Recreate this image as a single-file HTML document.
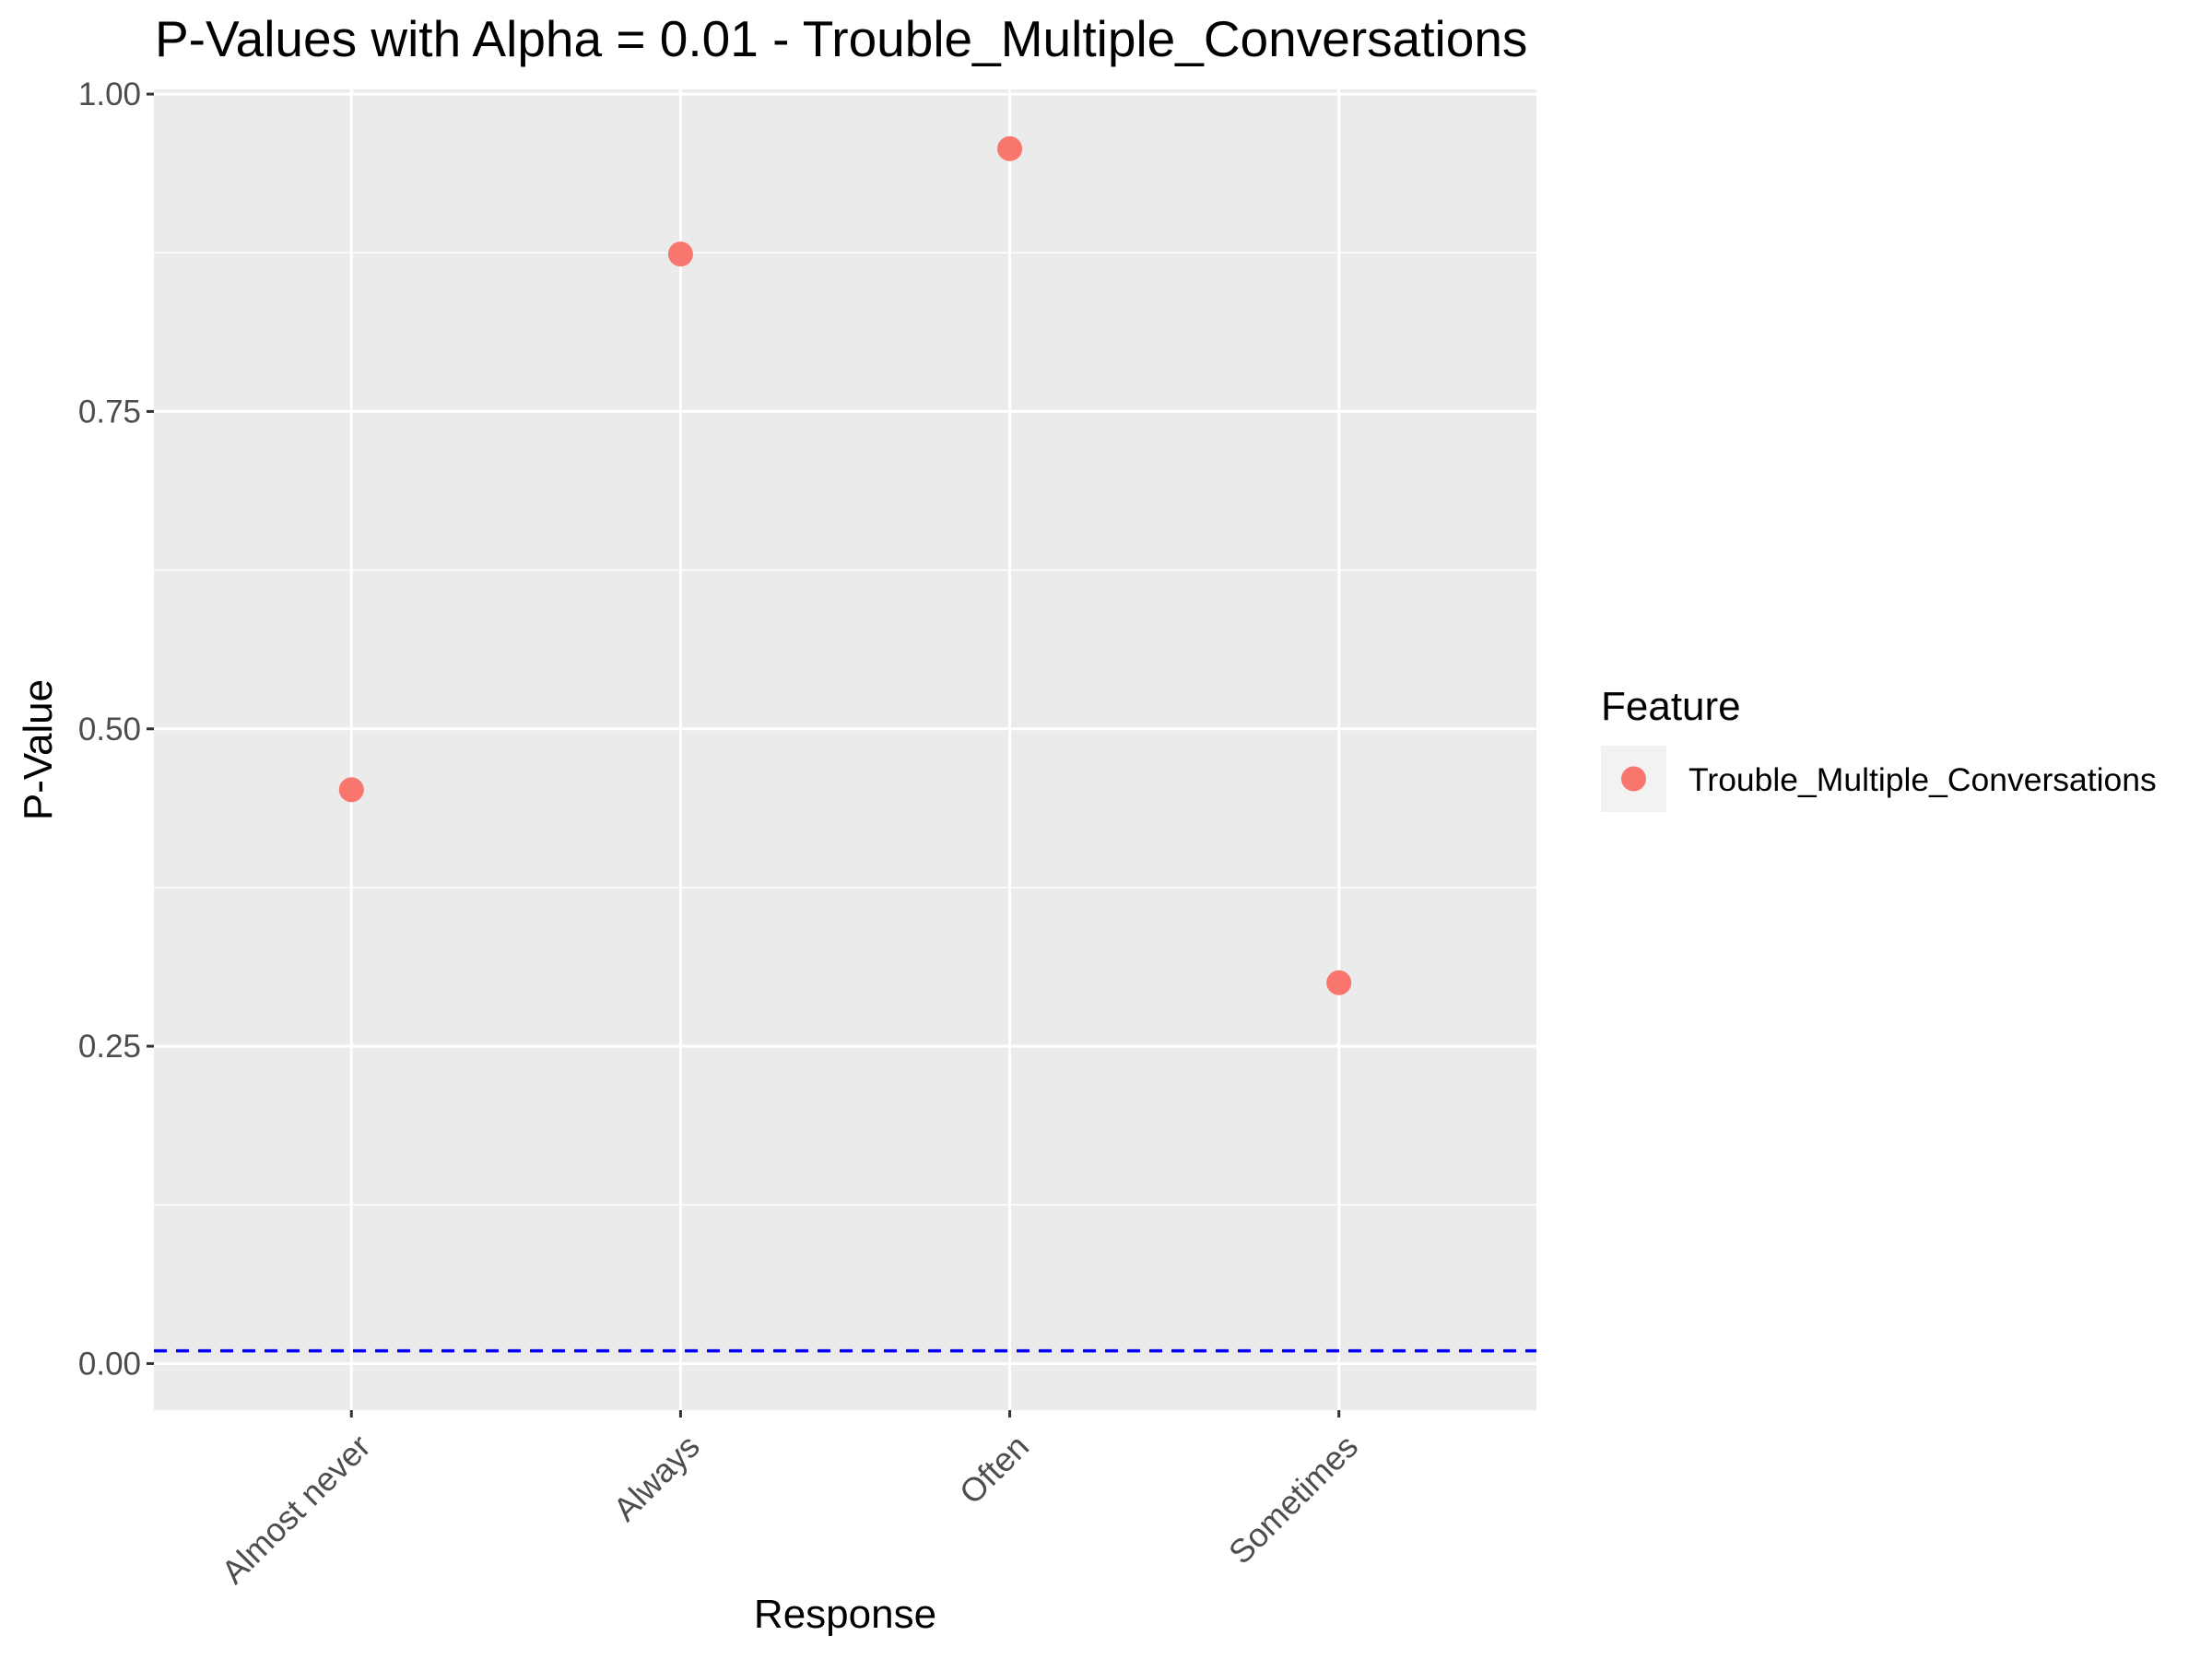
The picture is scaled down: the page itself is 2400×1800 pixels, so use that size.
<!DOCTYPE html>
<html><head><meta charset="utf-8"><style>body{margin:0;background:#fff}svg{display:block}</style></head>
<body>
<svg id="chart" width="2400" height="1800" xmlns="http://www.w3.org/2000/svg" font-family="Liberation Sans, sans-serif"></svg>
<script>
const categories = ["Almost never","Always","Often","Sometimes"];
const pValues = [0.452, 0.874, 0.957, 0.300];
const yTicks = [0, 0.25, 0.5, 0.75, 1.0];
const yTickLabels = ["0.00","0.25","0.50","0.75","1.00"];
const yMinor = [0.125, 0.375, 0.625, 0.875];
const alpha = 0.01;

const L=167,R=1667,T=97,B=1530;
const yMin=-0.0367,yMax=1.0037;
const y=v=>B-(v-yMin)/(yMax-yMin)*(B-T);
const step=(R-L)/(categories.length+0.2);
const x=i=>L+step*(0.6+i);
const svg=document.getElementById('chart');
const NS='http://www.w3.org/2000/svg';
function mk(tag,attrs,parent){const e=document.createElementNS(NS,tag);for(const k in attrs)e.setAttribute(k,attrs[k]);(parent||svg).appendChild(e);return e;}

let e=mk('rect',{x:L,y:T,width:R-L,height:B-T,fill:'#EBEBEB'});


yMinor.forEach(v=>{const g=mk('line',{x1:L,x2:R,y1:y(v),y2:y(v),stroke:'#fff','stroke-width':1.5});

});
yTicks.forEach((v,i)=>{const g=mk('line',{x1:L,x2:R,y1:y(v),y2:y(v),stroke:'#fff','stroke-width':3});


const t=mk('line',{x1:L-8,x2:L,y1:y(v),y2:y(v),stroke:'#333','stroke-width':3});


const lb=mk('text',{x:L-14,y:y(v)+12,'text-anchor':'end','font-size':35,fill:'#4D4D4D'});lb.textContent=yTickLabels[i];

});
categories.forEach((c,i)=>{const g=mk('line',{x1:x(i),x2:x(i),y1:T,y2:B,stroke:'#fff','stroke-width':3});


const t=mk('line',{x1:x(i),x2:x(i),y1:B,y2:B+8,stroke:'#333','stroke-width':3});


const lb=mk('text',{x:0,y:0,'text-anchor':'end','font-size':36,fill:'#4D4D4D',transform:`translate(${x(i)+5},${B+24}) rotate(-45)`});
lb.setAttribute('dy','0.7em');
lb.textContent=c;

});
e=mk('line',{x1:L,x2:R,y1:y(alpha),y2:y(alpha),stroke:'#0000FF','stroke-width':3.5,'stroke-dasharray':'14 10'});


pValues.forEach((v,i)=>{const p=mk('circle',{cx:x(i),cy:y(v),r:13.5,fill:'#F8766D'});

});

e=mk('text',{x:168,y:61,'font-size':55,fill:'#000'});e.textContent='P-Values with Alpha = 0.01 - Trouble_Multiple_Conversations';


e=mk('text',{x:(L+R)/2,y:1766,'text-anchor':'middle','font-size':44,fill:'#000'});e.textContent='Response';


e=mk('text',{x:0,y:0,'text-anchor':'middle','font-size':44,fill:'#000',transform:`translate(56,${(T+B)/2}) rotate(-90)`});e.textContent='P-Value';


e=mk('text',{x:1737,y:781,'font-size':44,fill:'#000'});e.textContent='Feature';


e=mk('rect',{x:1737,y:809,width:71,height:72,fill:'#F2F2F2'});


e=mk('circle',{cx:1772.5,cy:845,r:13.5,fill:'#F8766D'});


e=mk('text',{x:1832,y:858,'font-size':35.5,fill:'#000'});e.textContent='Trouble_Multiple_Conversations';


</script>
</body></html>
